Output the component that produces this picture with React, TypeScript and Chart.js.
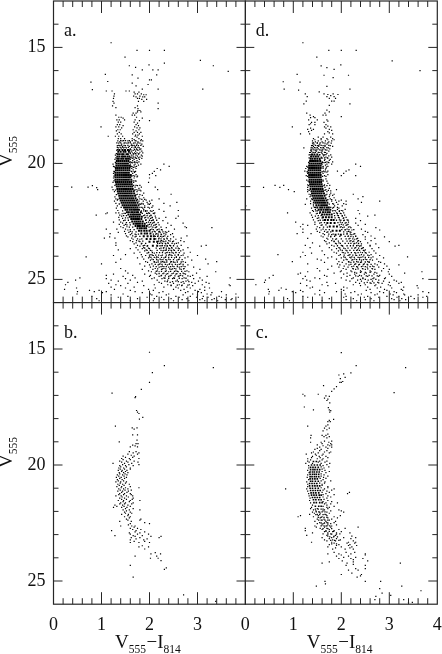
import React, { useEffect, useRef } from "react";
import { Chart, registerables } from "chart.js";
Chart.register(...registerables);

type Rows = [number, number[]][];
const xTickLabels = [0, 1, 2, 3, 4];
const yTickLabels = [15, 20, 25];

const aCore: Rows = [
[19.42,[1.37,1.44,1.49,1.55]],[19.5,[1.35,1.4,1.46,1.5,1.57]],[19.6,[1.34,1.38,1.43,1.46,1.52,1.55]],
[19.7,[1.33,1.37,1.42,1.45,1.49,1.54,1.58]],[19.8,[1.33,1.36,1.41,1.45,1.5,1.53,1.57]],[19.9,[1.32,1.36,1.4,1.44,1.48,1.52,1.56]],
[20,[1.31,1.35,1.39,1.43,1.47,1.51,1.55]],[20.1,[1.31,1.35,1.39,1.43,1.47,1.51,1.55,1.59]],[20.2,[1.3,1.34,1.38,1.42,1.46,1.5,1.54,1.58]],
[20.3,[1.3,1.34,1.38,1.42,1.46,1.5,1.54,1.58]],[20.4,[1.29,1.33,1.37,1.41,1.45,1.49,1.53,1.57]],[20.5,[1.29,1.33,1.37,1.41,1.45,1.49,1.53,1.57,1.61]],
[20.6,[1.29,1.33,1.37,1.41,1.45,1.49,1.53,1.57,1.6]],[20.7,[1.29,1.33,1.37,1.41,1.45,1.49,1.53,1.57,1.62]],[20.8,[1.3,1.34,1.38,1.42,1.46,1.5,1.54,1.58,1.62]],
[20.9,[1.31,1.35,1.39,1.43,1.47,1.51,1.55,1.59,1.63]],[21,[1.32,1.36,1.4,1.44,1.48,1.52,1.56,1.6,1.64]],[21.1,[1.33,1.37,1.41,1.45,1.49,1.53,1.57,1.61,1.65]],
[21.2,[1.34,1.38,1.42,1.46,1.5,1.54,1.58,1.62,1.67]],[21.3,[1.35,1.39,1.43,1.47,1.51,1.55,1.59,1.63,1.68]],[21.4,[1.37,1.41,1.45,1.49,1.53,1.57,1.61,1.65,1.7]],
[21.5,[1.38,1.42,1.46,1.5,1.54,1.58,1.62,1.66,1.71]],[21.6,[1.4,1.44,1.48,1.52,1.56,1.6,1.64,1.68,1.73]],[21.7,[1.42,1.46,1.5,1.54,1.58,1.62,1.66,1.7,1.75]],
[21.8,[1.44,1.48,1.52,1.56,1.6,1.64,1.68,1.72,1.77]],[21.9,[1.47,1.51,1.55,1.59,1.63,1.67,1.71,1.75]],[22,[1.5,1.54,1.59,1.63,1.67,1.7,1.74,1.78]],
[22.1,[1.53,1.57,1.62,1.65,1.69,1.73,1.76,1.82]],[22.2,[1.56,1.61,1.65,1.68,1.72,1.76,1.8]],[22.3,[1.59,1.63,1.67,1.71,1.75,1.79,1.84]],
[22.4,[1.62,1.66,1.7,1.74,1.78,1.83]],[22.5,[1.64,1.69,1.73,1.77,1.81,1.86]],[22.6,[1.67,1.72,1.76,1.8,1.85,1.9]],
[22.7,[1.71,1.76,1.8,1.85,1.89,1.94]],[22.8,[1.75,1.8,1.84,1.89,1.93]],[22.9,[1.78,1.83,1.89,1.94,2]],
[23.02,[1.83,1.9,1.95,2.02]],[23.14,[1.88,1.96,2.03,2.09]],[23.26,[1.94,2.02,2.1]],[23.38,[2,2.09,2.16]],[23.55,[2.07,2.16]],
];
const aMid: Rows = [
[19.02,[1.4,1.46,1.5,1.58,1.64,1.7,1.82]],[19.12,[1.32,1.4,1.49,1.56,1.6,1.7,1.76]],[19.22,[1.36,1.41,1.47,1.55,1.62,1.68,1.73,1.82]],[19.31,[1.33,1.39,1.43,1.49,1.56,1.63,1.71,1.76]],
[19.41,[1.33,1.57,1.61,1.69,1.74,1.8]],[19.58,[1.31,1.6,1.66,1.71,1.78]],[19.76,[1.3,1.6,1.66,1.71,1.77]],[19.96,[1.29,1.59,1.63,1.68,1.72]],[20.15,[1.27,1.6,1.64,1.7]],[20.35,[1.27,1.63,1.68]],
[20.55,[1.26,1.63,1.69,1.75]],[20.75,[1.26,1.66,1.7]],[20.95,[1.28,1.67,1.72,1.8]],[21.15,[1.29,1.69,1.76,1.8]],[21.35,[1.31,1.72,1.8]],[21.55,[1.34,1.75,1.84,1.9]],[21.75,[1.37,1.8,1.87,1.97]],
[21.9,[1.41,1.8,1.84,1.9,1.97,2.05]],[22.05,[1.44,1.83,1.88,1.95,2.02]],[22.15,[1.47,1.5,1.85,1.94,2,2.08]],[22.25,[1.46,1.52,1.88,1.95,2.03]],[22.35,[1.5,1.55,1.9,1.97,2.05,2.13]],[22.45,[1.49,1.56,1.92,2,2.07,2.15]],
[22.55,[1.52,1.59,1.94,2.02,2.09,2.18]],[22.65,[1.53,1.6,1.97,2.04,2.12,2.2]],[22.75,[1.58,1.65,1.99,2.07,2.14,2.24]],[22.85,[1.6,1.68,2.02,2.08,2.17,2.25]],[22.95,[1.64,1.72,2.06,2.12,2.19,2.28,2.33]],
[23.05,[1.7,1.77,2.08,2.13,2.18,2.24,2.34]],[23.15,[1.72,1.8,2.12,2.17,2.23,2.29,2.38]],[23.25,[1.75,1.84,2.13,2.19,2.24,2.3,2.37,2.44]],[23.35,[1.78,1.86,2.19,2.23,2.28,2.34,2.43,2.5]],
[23.45,[1.84,1.92,2.17,2.21,2.27,2.33,2.39,2.47,2.56]],[23.55,[1.87,1.96,2.22,2.26,2.32,2.37,2.44,2.5]],[23.65,[1.9,1.98,2.14,2.24,2.29,2.35,2.4,2.47,2.55,2.6]],[23.75,[1.95,2.02,2.16,2.24,2.3,2.34,2.4,2.45,2.52,2.6]],
[23.85,[1.98,2.06,2.15,2.21,2.27,2.36,2.42,2.47,2.55,2.62]],[23.95,[2,2.06,2.13,2.19,2.27,2.35,2.4,2.45,2.53,2.6,2.7]],[24.05,[2.03,2.1,2.18,2.25,2.33,2.4,2.46,2.56,2.63]],[24.15,[2.08,2.15,2.24,2.28,2.34,2.43,2.5,2.6,2.68]],
[24.25,[2.1,2.18,2.24,2.3,2.36,2.44,2.5,2.58,2.66]],[24.35,[2.12,2.2,2.26,2.33,2.41,2.47,2.54,2.62,2.7]],[24.45,[2.14,2.24,2.3,2.35,2.44,2.51,2.58,2.66,2.74]],[24.55,[2.17,2.27,2.34,2.42,2.48,2.55,2.63,2.71]],
[24.65,[2.14,2.25,2.33,2.44,2.52,2.58,2.67,2.74]],[24.75,[2.2,2.28,2.38,2.47,2.57,2.64,2.72]],[24.85,[2.24,2.33,2.43,2.53,2.62,2.69,2.8]],[24.95,[2.32,2.4,2.52,2.62,2.76]],[25.1,[2.37,2.48,2.6,2.7,2.82]],[25.25,[2.45,2.58,2.68,2.8]],
];
const aField: Rows = [
[14.8,[1.2]],[15.13,[1.74,2,2.31]],[15.42,[1.49]],[15.56,[3.06]],[15.68,[2.31]],[15.79,[3.33,1.58]],[15.75,[1.99]],[15.86,[1.71]],[16.03,[3.64]],[15.97,[1.85,2.07,2.18]],
[16.16,[1.08]],[16.18,[1.64,2.15]],[16.32,[1.76]],[16.4,[2,2.04]],[16.47,[1.13]],[16.5,[0.78]],[16.54,[1.64]],[16.6,[1.97]],[16.66,[1.72]],[16.8,[3.11,1.85,2.18]],[16.82,[0.81]],
[16.88,[1.1,1.22,1.51,1.58]],[16.93,[1.68,1.78]],[17,[1.27,1.7,1.75,1.83]],[17.04,[1.88,1.93]],[17.1,[1.26,1.67,1.8]],[17.13,[1.72,1.86,1.9]],[17.2,[1.25,1.75,1.79]],[17.24,[1.84,1.94]],[17.33,[1.24,1.77,1.88]],
[17.4,[1.26,2.18]],[17.52,[1.23,1.75]],[17.6,[1.3,1.7]],[17.64,[1.76,2.18]],[17.72,[1.76,1.8]],[17.83,[1.66,1.72]],[17.78,[1.75,1.82]],[17.92,[1.3,1.64,1.69]],
[18.01,[1.36,1.41,1.73]],[18.05,[1.45,1.85]],[18.12,[1.32,1.37,1.48,1.7]],[18.16,[1.79,2]],[18.22,[1.35,1.4,1.68]],[18.26,[1.75]],[18.33,[1.33,1.38,1.72]],[18.37,[1.45,1.77]],[18.43,[1.3,1.36,1.69,0.99]],[18.47,[1.42,1.74,1.8]],
[18.55,[1.34,1.39,1.66,1.78]],[18.6,[1.31,1.72]],[18.66,[1.37,1.68,1.75,1.82]],[18.73,[1.33,1.41,1.65,1.79]],[18.78,[1.71,1.76]],[18.83,[1.29,1.36,1.44,1.7,1.85,1.14]],[18.87,[1.74]],
[18.93,[1.35,1.4,1.48,1.64,1.78]],[18.97,[1.68,1.83]],[19.03,[1.34,1.43,1.55,1.72,1.86]],[19.07,[1.38,1.6,1.76]],[19.13,[1.36,1.47,1.53,1.67,1.8]],[19.17,[1.42,1.63,1.74,1.84]],
[19.23,[1.33,1.38,1.5,1.65,1.77]],[19.27,[1.44,1.58,1.7,1.87]],[19.33,[1.35,1.46,1.52,1.68,1.79]],[19.37,[1.41,1.6,1.73,1.82]],[19.44,[1.32,1.58,1.66,1.76]],[19.47,[1.62,1.71,1.84]],
[19.55,[1.6,1.69,1.74,1.86]],[19.52,[1.64,1.8]],[19.64,[1.29,1.63,1.72,1.83]],[19.6,[1.67,1.77]],[19.73,[1.62,1.7,1.8]],[19.69,[1.66,1.75,1.85]],[19.83,[1.28,1.6,1.68,1.79]],[19.78,[1.64,1.73,1.84]],
[19.93,[1.6,1.69,1.78]],[19.88,[1.65,1.74]],[20.03,[1.24,1.6,1.7,1.82,2.3]],[19.98,[1.64,1.75]],[20.13,[1.25,1.62,1.73,2.41]],[20.07,[1.68,1.77]],[20.22,[1.63,1.72,2.16]],[20.17,[1.67]],
[20.34,[1.26,1.62,1.71,2.1]],[20.28,[1.66,2.23]],[20.43,[1.25,1.65,2.06]],[20.39,[1.69]],[20.53,[1.66,2.13]],[20.48,[1.72,2]],[20.63,[1.25,1.68,2]],[20.58,[1.74]],[20.82,[1.24,1.67,1.98]],[20.76,[1.72]],
[21.02,[1.22,1.7,1.83,2.12,0.38,0.72]],[20.96,[1.75,0.81]],[21.04,[0.9]],[21.13,[1.24,1.72,2.17,0.92]],[21.08,[1.78]],[21.22,[1.27,1.74]],[21.18,[1.82]],[21.33,[1.75,2.45]],[21.28,[1.88]],[21.44,[1.28,1.78]],[21.38,[1.85]],
[21.53,[1.3,1.8,2.2]],[21.48,[1.88]],[21.63,[1.27,1.78,1.87,2.0]],[21.58,[1.33,1.93,2.05]],[21.72,[1.3,1.84,2.02,2.3]],[21.68,[1.95,2.57]],[21.83,[1.33,1.9,2.07,2.43]],[21.77,[1.82,2]],
[21.93,[1.31,1.86,2]],[22.03,[1.34,1.92,2.08,2.6]],[21.98,[2.2,1.88]],[22.13,[1.3,1.36,1.98,2.11,1.12]],[22.07,[1.92,2.05,2.3]],[22.23,[1.38,1.9,2.03,0.89]],[22.17,[1.43,1.96,2.1,1.09]],
[22.33,[1.36,1.92,2.06,2.34]],[22.27,[1.42,2,2.12,2.6]],[22.43,[1.37,1.93,2.08]],[22.37,[1.44,2.02,2.2,2.55]],[22.53,[1.25,1.4,1.98,2.1]],[22.47,[1.46,2.04,2.28]],[22.63,[1.37,1.5,2,2.14]],[22.57,[1.44,2.06,2.38,2.7]],
[22.73,[1.4,1.53,2.03,2.15,2.74]],[22.67,[1.47,2.09,2.45]],[22.83,[1.1,1.32,1.5,2.05,2.2,2.52]],[22.77,[1.45,2.12,2.35,2.77,3.3]],[22.93,[1.48,1.6,2.1,2.21,2.4]],[22.87,[1.55,2.15,2.27]],
[23.03,[1.18,1.5,1.63,2.15,2.3,2.48]],[22.97,[1.35,1.57,2.22,2.36]],[23.12,[1.52,1.65,2.18,2.32,2.78]],[23.07,[1.6,1.72,2.25,2.44]],[23.22,[1.06,1.28,1.63,2.2,2.36,2.66]],[23.17,[1.17,1.55,1.7,2.26,2.5]],
[23.33,[1.6,1.73,2.25,2.4,2.65]],[23.27,[1.66,1.8,2.31,2.55]],[23.43,[1.3,1.72,2.24,2.38,2.6]],[23.37,[1.65,1.8,2.3,2.48,2.72]],[23.53,[1.3,1.75,1.9,2.27,2.42,2.66,3.18]],[23.47,[1.68,1.83,2.34,2.52]],
[23.63,[1.72,1.88,2.3,2.46,2.8]],[23.57,[1.8,1.95,2.37,2.58,3.08]],[23.73,[1.35,1.76,1.93,2.35,2.5,2.7]],[23.67,[1.6,1.85,2,2.42,2.62,2.21]],[23.83,[1.8,1.98,2.38,2.55,2.85]],[23.77,[1.9,2.05,2.28,2.46,2.65]],
[23.93,[1.5,1.83,2.03,2.42,2.6]],[23.87,[1.68,1.95,2.1,2.33,2.5,2.72]],[24.03,[0.68,1.85,2,2.15,2.34,2.56,2.8]],[23.97,[1.25,1.92,2.08,2.24,2.47,2.66,3]],[24.13,[1.4,1.88,2.05,2.22,2.4,2.62,3.17]],[24.07,[1.75,1.98,2.14,2.3,2.52,2.74]],
[24.23,[1.92,2.1,2.27,2.46,2.7,3.4]],[24.17,[2.02,2.18,2.36,2.57,2.88]],[24.33,[1,1.8,2.05,2.22,2.42,2.65,3.22]],[24.27,[1.3,1.96,2.14,2.32,2.53,2.75]],[24.43,[1.9,2.08,2.27,2.48,2.7]],[24.37,[2,2.18,2.37,2.58,2.8]],
[24.53,[1.4,2.12,2.3,2.52,2.72]],[24.47,[2.02,2.2,2.4,2.62,2.92]],[24.63,[1.5,1.98,2.16,2.35,2.55,2.78]],[24.57,[1.85,2.07,2.25,2.45,2.66,3.05]],[24.73,[1.55,2.12,2.3,2.5,2.7,2.98]],[24.67,[2.04,2.2,2.4,2.6,2.82,3.38]],
[24.83,[1.1,1.65,2.02,2.25,2.45,2.65,2.9]],[24.77,[1.25,1.9,2.15,2.35,2.55,2.75]],[24.93,[0.55,1.7,2.1,2.3,2.5,2.72,3.05,3.68]],[24.87,[1.45,2,2.2,2.4,2.6,2.85,3.2]],[25.03,[0.46,1.2,1.6,2.16,2.38,2.58,2.8,3.1]],[24.97,[1.1,1.5,2.05,2.26,2.48,2.68,2.92]],
[25.13,[0.3,1.75,2.2,2.43,2.66,2.88,3.18]],[25.07,[1.35,1.85,2.32,2.55,2.76,3.02]],[25.23,[0.25,1.3,2.1,2.38,2.62,2.83,3.1,3.66]],[25.17,[1.15,1.55,2.25,2.5,2.72,2.95,3.24]],[25.33,[1.2,1.68,2.3,2.55,2.78,3.15]],[25.27,[1.4,1.88,2.45,2.67,2.9,3.68]],
[25.43,[0.23,1.27,1.98,2.5,2.72,3.05]],[25.37,[0.48,1.5,2.12,2.6,2.85,3.25]],[25.53,[0.5,0.85,1.1,1.7,2.28,2.8,3.02,3.5]],[25.47,[0.75,0.95,1.6,2.08,2.65,2.95,3.15]],[25.63,[0.49,1.45,2.02,2.4,2.9,3.2,3.8]],[25.57,[1.02,1.85,2.2,2.75,3.08,3.3]],
[25.73,[0.8,1.55,2.15,2.55,2.85,3.12,3.45]],[25.67,[1.2,2.05,2.35,2.7,3,3.28,3.6]],[25.83,[0.9,1.75,2.1,2.45,2.78,3.1,3.35,3.72]],[25.77,[1.35,1.95,2.25,2.62,2.98,3.22,3.5,3.85]],[25.92,[0.95,1.6,2.08,2.5,2.82,3.15,3.42]],[25.87,[2.3,2.68,3.05,3.3,3.58,3.7]],
];

const dCore: Rows = [
[19.62,[1.39,1.44,1.5]],[19.7,[1.37,1.42,1.47,1.52]],[19.8,[1.36,1.4,1.45,1.5,1.55]],[19.9,[1.35,1.39,1.43,1.47,1.51,1.56]],
[20,[1.34,1.38,1.42,1.46,1.5,1.54,1.58]],[20.1,[1.33,1.37,1.41,1.45,1.49,1.53,1.57]],[20.2,[1.33,1.37,1.41,1.45,1.49,1.53,1.57]],[20.3,[1.32,1.36,1.4,1.44,1.48,1.52,1.56]],
[20.4,[1.32,1.36,1.4,1.44,1.48,1.52,1.56]],[20.5,[1.33,1.37,1.41,1.45,1.49,1.53,1.57]],[20.6,[1.33,1.37,1.41,1.45,1.49,1.53,1.57]],[20.7,[1.34,1.38,1.42,1.46,1.5,1.54,1.58]],
[20.8,[1.34,1.38,1.42,1.46,1.5,1.54,1.58]],[20.9,[1.35,1.39,1.43,1.47,1.51,1.55,1.59]],[21,[1.36,1.4,1.44,1.48,1.52,1.56,1.6]],[21.1,[1.36,1.41,1.45,1.49,1.53,1.57,1.61]],
[21.2,[1.38,1.42,1.46,1.5,1.54,1.58,1.62]],[21.3,[1.39,1.43,1.47,1.51,1.55,1.59,1.64]],[21.4,[1.4,1.44,1.48,1.52,1.56,1.6,1.65]],[21.5,[1.42,1.46,1.5,1.54,1.58,1.62,1.67]],
[21.6,[1.44,1.48,1.52,1.56,1.6,1.64,1.69]],[21.7,[1.46,1.5,1.54,1.58,1.62,1.66,1.71]],[21.8,[1.48,1.53,1.58,1.62,1.66,1.7]],[21.9,[1.5,1.56,1.6,1.65,1.7,1.74]],
[22,[1.53,1.58,1.63,1.68,1.72,1.77]],[22.1,[1.56,1.62,1.67,1.72,1.76]],[22.2,[1.6,1.65,1.7,1.75,1.8]],[22.32,[1.62,1.68,1.74,1.8]],[22.44,[1.66,1.72,1.79,1.84]],
[22.57,[1.71,1.78,1.86]],[22.72,[1.76,1.84,1.91]],[22.9,[1.82,1.9,1.97]],[23.08,[1.88,1.99]],
];
const dMid: Rows = [
[19.12,[1.42,1.5,1.56,1.62,1.72]],[19.22,[1.4,1.46,1.53,1.58,1.66,1.74]],[19.32,[1.39,1.44,1.5,1.57,1.63,1.7]],[19.42,[1.38,1.43,1.49,1.55,1.61,1.67]],[19.52,[1.36,1.41,1.46,1.52,1.58,1.65]],
[19.62,[1.35,1.55,1.62,1.68]],[19.76,[1.33,1.59,1.65,1.71]],[19.96,[1.32,1.61,1.67,1.73]],[20.16,[1.3,1.62,1.69]],[20.36,[1.29,1.6,1.66]],[20.56,[1.3,1.61,1.68]],[20.76,[1.31,1.62,1.7]],[20.96,[1.32,1.64,1.7]],
[21.16,[1.33,1.66,1.73]],[21.36,[1.36,1.68,1.76]],[21.56,[1.4,1.72,1.8]],[21.76,[1.42,1.75,1.84]],[21.9,[1.44,1.46,1.78,1.84,1.92]],[22.05,[1.47,1.5,1.82,1.88,1.96,2.03]],[22.15,[1.5,1.55,1.85,1.92,1.98]],
[22.25,[1.52,1.58,1.86,1.94,2.02]],[22.35,[1.53,1.6,1.87,1.96,2.05]],[22.45,[1.56,1.62,1.9,1.99,2.06,2.14]],[22.55,[1.58,1.65,1.93,2.02,2.1]],[22.65,[1.6,1.68,1.96,2.04,2.12]],[22.75,[1.63,1.71,1.98,2.06,2.15]],
[22.85,[1.68,1.75,2.01,2.08,2.16,2.26]],[22.95,[1.72,1.78,2.05,2.12,2.18]],[23.05,[1.74,1.83,1.94,2.05,2.12,2.19,2.26]],[23.15,[1.78,1.86,1.97,2.08,2.14,2.2,2.3]],[23.25,[1.82,1.9,2,2.1,2.16,2.24,2.32]],
[23.35,[1.85,1.94,2.03,2.12,2.18,2.26,2.34]],[23.45,[1.88,1.98,2.08,2.15,2.2,2.28,2.36]],[23.55,[1.92,2.02,2.12,2.19,2.25,2.32,2.41]],[23.65,[1.97,2.05,2.14,2.22,2.28,2.36,2.44]],[23.75,[2.02,2.1,2.18,2.26,2.32,2.38,2.46]],
[23.85,[2.04,2.14,2.21,2.28,2.35,2.44,2.5]],[23.95,[2.06,2.16,2.24,2.3,2.38,2.47,2.55]],[24.05,[2.08,2.18,2.27,2.35,2.41,2.5,2.57]],[24.15,[2.12,2.24,2.32,2.38,2.46,2.53,2.6]],[24.25,[2.16,2.26,2.35,2.42,2.5,2.58]],
[24.35,[2.2,2.28,2.38,2.46,2.54,2.62]],[24.45,[2.22,2.32,2.42,2.5,2.6,2.68]],[24.55,[2.25,2.35,2.45,2.55,2.65]],[24.7,[2.28,2.4,2.5,2.6,2.7]],[24.85,[2.3,2.42,2.52,2.64,2.75]],[25.0,[2.4,2.5,2.62,2.72]],[25.15,[2.48,2.6,2.68,2.78]],
];
const dField: Rows = [
[14.8,[1.2]],[15.13,[1.74,2,2.31]],[15.42,[1.49]],[15.58,[3.06]],[15.8,[1.58]],[15.75,[1.99]],[15.87,[1.7]],[16,[3.64]],[15.95,[1.85]],[16.16,[1.08]],[16.2,[1.64,2.15]],[16.3,[1.83]],
[16.48,[0.79]],[16.5,[1.14]],[16.68,[1.7]],[16.8,[0.81,2.18]],[16.84,[1.11]],[16.92,[1.54]],[17,[1.25,1.64,1.83]],[17.03,[1.72,1.93]],[17.12,[1.29,1.7,1.85]],[17.08,[1.78]],[17.2,[1.75,1.88]],[17.32,[1.27,1.8,1.85]],
[17.43,[1.22,2.18]],[17.5,[1.75]],[17.7,[1.7]],[17.83,[1.28,1.66]],[17.78,[1.75]],[17.92,[1.35,1.68,1.62]],[18.03,[1.36,1.45]],[17.98,[1.42,2]],[18.12,[1.32,1.5,1.7]],[18.23,[1.38,1.45,1.64]],[18.18,[1.72]],
[18.33,[1.33,1.45,1.68]],[18.29,[1.36]],[18.43,[0.98,1.65,1.78]],[18.39,[1.72]],[18.53,[1.3,1.42,1.75]],[18.48,[1.36,1.68]],[18.63,[1.32,1.72]],[18.58,[1.38,1.8]],[18.73,[1.15,1.34,1.65,1.82]],[18.68,[1.75]],
[18.93,[1.42,1.58,1.7,1.82]],[18.87,[1.52,1.62,1.78]],[19.03,[1.4,1.52,1.67,1.8]],[18.98,[1.45,1.58,1.72,1.85]],[19.13,[1.4,1.5,1.66,1.79]],[19.07,[1.46,1.6,1.74]],[19.23,[1.38,1.5,1.62,1.77]],[19.17,[1.43,1.55,1.7]],
[19.33,[1.22,1.37,1.47,1.6,1.73]],[19.27,[1.42,1.53,1.66,1.82]],[19.43,[1.36,1.46,1.58,1.7]],[19.37,[1.41,1.52,1.64,1.76]],[19.53,[1.34,1.43,1.54,1.67]],[19.47,[1.38,1.48,1.6,1.74]],[19.63,[1.33,1.55,1.65,1.78]],[19.57,[1.6,1.7]],
[19.73,[1.58,1.68,1.8]],[19.68,[1.63,1.74]],[19.83,[1.55,1.66,1.77]],[19.77,[1.6,1.72]],[19.93,[1.6,1.7,1.82]],[19.87,[1.65,1.75]],[20.03,[1.6,1.7,1.8,2.3]],[19.97,[1.64,1.74]],[20.13,[1.28,1.62,1.72,2.4]],[20.07,[1.67]],[20.22,[1.26,1.62,1.68]],
[20.33,[1.24,1.63,1.72,1.92,2.1]],[20.28,[1.67,2.16]],[20.43,[1.3,1.62,2.05]],[20.38,[1.7]],[20.53,[1.27,1.65,2,2.3]],[20.48,[1.72]],[20.72,[1.28,1.62]],[20.67,[1.68]],[20.93,[1.3,1.65]],[20.86,[1.72]],
[21.03,[0.38,0.72,1.3,1.66]],[20.95,[0.62,0.8,1.76]],[21.13,[0.9,1.3,1.68,1.9]],[21.08,[1.75]],[21.22,[1.02,1.3,1.7]],[21.18,[1.78]],[21.33,[1.33,1.7,1.85,2.25]],[21.28,[1.78]],[21.43,[1.35,1.75,2.45]],[21.38,[1.82]],
[21.53,[1.28,1.38,1.77,2.35]],[21.48,[1.85]],[21.63,[1.36,1.8,1.95,2.1,2.8]],[21.58,[1.88,2.0]],[21.73,[1.36,1.82,2.05]],[21.68,[1.42,1.9,2.42]],[21.83,[0.01,1.42,1.86,2.02]],[21.77,[1.25,1.93,2.1]],
[21.93,[1.38,1.82,1.95]],[22.03,[1.4,1.85,2,2.35]],[21.98,[1.46,1.92,2.08]],[22.13,[0.88,1.35,1.9,2.05]],[22.07,[1.42,1.96]],[22.23,[1.38,1.92,2.07,2.7]],[22.17,[1.48,2,2.38]],[22.33,[1.4,1.94,2.1]],[22.27,[1.46,2.02,2.55]],
[22.43,[1.42,1.96,2.12]],[22.37,[1.5,2.04,2.3]],[22.53,[1.05,1.45,1.98,2.15]],[22.47,[1.52,2.05,2.4]],[22.63,[1.2,1.45,2,2.14,2.5]],[22.57,[1.55,2.08,2.3]],[22.73,[1.15,1.5,2,2.18]],[22.67,[1.3,1.58,2.1,2.35]],
[22.83,[1.2,1.48,1.62,2.12,2.42]],[22.77,[1.55,2.03,2.2,2.72]],[22.93,[1.5,1.65,2.15,2.5]],[22.87,[1.58,2.08,2.22,2.8]],[23.03,[1.08,1.37,1.62,2.12,2.28]],[22.97,[1.2,1.55,1.7,2.2,2.55]],
[23.13,[1.58,1.73,2.15,2.3,2.62]],[23.07,[1.65,1.8,2.22,2.45]],[23.23,[1.3,1.7,2.18,2.34,2.7]],[23.17,[1.62,1.78,2.25,2.5,2.9]],[23.33,[1.65,1.8,2.2,2.36,2.62]],[23.27,[1.72,1.88,2.28,2.5]],
[23.43,[1.4,1.75,1.95,2.32,2.55]],[23.37,[1.68,1.85,2.24,2.4,3]],[23.53,[1.25,1.8,2,2.35,2.6,3.2]],[23.47,[1.7,1.9,2.26,2.42,2.72]],[23.63,[1.35,1.75,1.95,2.3,2.46,2.78]],[23.57,[1.55,1.85,2.03,2.38,2.6,3.12]],
[23.73,[1.8,1.98,2.34,2.5]],[23.67,[1.9,2.08,2.42,2.64]],[23.83,[1.2,1.85,2.02,2.4,2.58]],[23.77,[1.6,1.94,2.12,2.48,2.68]],[23.93,[0.68,1.65,1.98,2.18,2.42,2.62]],[23.87,[1.38,1.9,2.08,2.3,2.52,2.72]],
[24.03,[1.15,1.8,2.05,2.22,2.45,2.66,3.38]],[23.97,[1.25,1.95,2.14,2.32,2.58,2.8]],[24.13,[1.5,1.9,2.1,2.28,2.5,2.74]],[24.07,[1.72,2,2.2,2.38,2.62,2.88]],[24.23,[0.98,1.95,2.15,2.32,2.55,2.78]],[24.17,[1.58,2.05,2.22,2.42,2.65]],
[24.33,[1.3,1.92,2.1,2.3,2.48,2.7,2.9]],[24.27,[1.65,2.02,2.2,2.4,2.58,2.82]],[24.43,[1.8,2.06,2.26,2.45,2.65,2.95]],[24.37,[1.97,2.16,2.36,2.55,2.75,3.2]],[24.53,[1.5,2.04,2.24,2.44,2.64,2.88]],[24.47,[1.95,2.14,2.34,2.54,2.78]],
[24.63,[1.55,2,2.2,2.4,2.6,2.84]],[24.57,[1.72,2.1,2.3,2.5,2.7,3]],[24.73,[1.15,1.85,2.12,2.32,2.52,2.74,3.32]],[24.67,[1.3,1.98,2.22,2.42,2.62,2.98,3.68]],[24.83,[0.58,1.65,2.18,2.38,2.58,2.8]],[24.77,[1.1,2.05,2.28,2.48,2.68,3]],
[24.93,[0.5,1.45,2,2.25,2.45,2.68,2.92]],[24.87,[1.25,1.7,2.12,2.35,2.55,2.78,3.05]],[25.03,[0.42,1.28,2.1,2.34,2.56,2.78,3.1]],[24.97,[1.2,1.55,2.22,2.45,2.66,2.9,3.7]],[25.13,[0.4,1.7,2.3,2.54,2.76,3,3.25]],[25.07,[1.35,2.18,2.42,2.65,2.88,3.15]],
[25.23,[0.22,1.6,2.25,2.5,2.72,2.98]],[25.17,[1.15,1.88,2.38,2.62,2.85,3.2]],[25.33,[1.4,2.05,2.55,2.82,3.3]],[25.27,[1.28,1.72,2.4,2.7,3.02,3.58]],[25.43,[0.48,0.85,2,2.6,2.9,3.25]],[25.37,[0.75,1.35,2.12,2.75,3.05,3.6]],
[25.53,[0.5,0.98,1.2,1.9,2.28,2.8,3.1,3.7]],[25.47,[0.7,1.15,1.55,2.05,2.52,2.95,3.28]],[25.63,[0.49,1.45,2.08,2.42,2.75,3.02,3.3]],[25.57,[1.05,1.65,2.2,2.62,2.88,3.15,3.82]],[25.73,[1.2,2.1,2.55,2.95,3.2,3.45,3.78]],[25.67,[1.55,2.35,2.7,3.08,3.32,3.6]],
[25.83,[0.88,1.75,2.25,2.62,3.05,3.26,3.52]],[25.77,[1.3,2.05,2.48,2.78,3.16,3.4,3.7]],[25.92,[0.92,1.6,2.32,2.68,3.22]],[25.87,[2.1,2.5,3.1,3.34]],
];

const bField: Rows = [
[15.14,[2]],[15.72,[2.31]],[15.8,[3.33]],[16.02,[2.06]],[16.44,[2]],[16.74,[1.83]],[16.9,[1.22]],[17.05,[1.71]],[17.1,[1.7]],[17.65,[1.73]],[17.72,[1.75]],[17.78,[1.78]],[17.95,[1.86]],[18.02,[1.79]],[18.32,[1.29]],
[18.4,[1.64,1.74]],[18.45,[1.68]],[18.7,[1.65,1.75]],[18.93,[1.74]],[19,[1.37]],[19.08,[1.72,1.76]],[19.14,[1.65]],[19.22,[1.6,1.75]],[19.18,[1.7]],[19.42,[1.58,1.72]],[19.53,[1.55,1.75]],[19.48,[1.66,1.78]],
[19.62,[1.45,1.68]],[19.58,[1.62]],[19.72,[1.42,1.58,1.78]],[19.67,[1.5,1.65]],[19.83,[1.38,1.52,1.68]],[19.77,[1.45,1.6]],[19.93,[1.24,1.48,1.63]],[19.88,[1.42,1.55,1.76]],[20.03,[1.38,1.5,1.66]],[19.98,[1.44,1.57,1.78]],
[20.13,[1.36,1.46,1.6]],[20.08,[1.4,1.52]],[20.23,[1.35,1.43,1.53]],[20.18,[1.39,1.48,1.6]],[20.33,[1.37,1.46,1.55]],[20.28,[1.42,1.5]],[20.43,[1.33,1.44,1.53]],[20.38,[1.38,1.49]],[20.53,[1.31,1.41,1.52]],[20.48,[1.36,1.47]],
[20.63,[1.33,1.43]],[20.58,[1.38,1.48]],[20.73,[1.3,1.4,1.52]],[20.68,[1.35,1.46]],[20.83,[1.34,1.44,1.58]],[20.78,[1.39,1.5]],[20.93,[1.32,1.42,1.6]],[20.88,[1.37,1.47]],[21.03,[1.36,1.46,1.55]],[20.98,[1.41,1.5,1.78]],
[21.13,[1.34,1.44,1.56]],[21.08,[1.39,1.49,1.62]],[21.23,[1.38,1.48,1.6]],[21.18,[1.42,1.53]],[21.33,[1.3,1.41,1.52,1.65]],[21.28,[1.36,1.46,1.62]],[21.43,[1.38,1.48,1.66]],[21.38,[1.43,1.56]],[21.53,[1.35,1.46,1.6,1.8]],[21.48,[1.42,1.52,1.64]],
[21.63,[1.4,1.5,1.66]],[21.58,[1.45,1.58]],[21.73,[1.28,1.44,1.55]],[21.68,[1.38,1.48,1.63]],[21.83,[1.25,1.42,1.53]],[21.78,[1.32,1.47,1.6]],[21.93,[1.45,1.58,1.8]],[21.88,[1.5,1.66]],[22.03,[1.48,1.6]],[21.98,[1.52]],
[22.13,[1.42,1.56]],[22.08,[1.5,1.63]],[22.23,[1.48,1.6]],[22.18,[1.55]],[22.33,[1.52,1.82]],[22.28,[1.58]],[22.43,[1.38,1.62]],[22.38,[1.55,1.8]],[22.53,[1.6,2]],[22.48,[1.9]],[22.63,[1.4,1.63,1.7]],[22.58,[1.56]],
[22.73,[1.6,1.75]],[22.68,[1.68]],[22.83,[1.21,1.72]],[22.78,[1.65,1.82]],[22.93,[1.58,1.8]],[22.88,[1.7,1.9]],[23.04,[1.28,1.66,1.85]],[22.98,[1.6,1.75,1.98]],[23.13,[1.62,1.8,2.2]],[23.08,[1.7,2.03,2.24]],[23.23,[1.6,1.88]],[23.18,[1.72,1.95]],
[23.34,[1.6,1.78,2]],[23.29,[1.68,1.9]],[23.53,[1.78,1.98]],[23.48,[1.85]],[23.62,[1.9]],[23.83,[2.03,2.23]],[23.78,[2.12]],[23.93,[1.7,2.15]],[24.02,[2.18,2.02]],[24.12,[2.24]],[24.33,[1.6]],[24.43,[2.35]],[24.5,[2.31]],[24.83,[1.66]],[25.6,[2.71]],[25.88,[3.38]],
];

const cCore: Rows = [
[19.85,[1.42,1.48]],[20,[1.38,1.44,1.5,1.56]],[20.1,[1.36,1.41,1.46,1.52]],[20.2,[1.36,1.41,1.45,1.5,1.55]],[20.3,[1.35,1.4,1.44,1.49,1.54]],[20.4,[1.35,1.4,1.44,1.48,1.53]],
[20.5,[1.35,1.39,1.44,1.48,1.53]],[20.6,[1.35,1.4,1.45,1.5]],[20.7,[1.36,1.4,1.46,1.52]],[20.8,[1.34,1.39,1.44,1.49]],[20.9,[1.34,1.4,1.45,1.5,1.55]],[21,[1.35,1.4,1.46,1.52]],
[21.1,[1.36,1.41,1.46,1.51,1.56]],[21.2,[1.37,1.42,1.47,1.53]],[21.3,[1.38,1.43,1.48,1.54,1.58]],[21.4,[1.4,1.45,1.5,1.55]],[21.5,[1.42,1.47,1.53,1.58]],[21.62,[1.43,1.48,1.55,1.6]],[21.78,[1.46,1.53,1.58]],
];
const cMid: Rows = [
[21.9,[1.46,1.52,1.58,1.62]],[22.02,[1.48,1.53,1.6,1.66]],[22.14,[1.47,1.55,1.62,1.68]],[22.26,[1.52,1.58,1.64,1.7]],[22.38,[1.53,1.6,1.66,1.72]],[22.5,[1.58,1.65,1.72]],
[22.62,[1.58,1.64,1.7,1.76]],[22.74,[1.62,1.72,1.8]],[22.86,[1.68,1.75,1.84]],[22.98,[1.72,1.8,1.9]],[23.1,[1.76,1.84,1.92]],[23.25,[1.78,1.86,1.95]],[23.4,[1.8,1.9]],
];
const cField: Rows = [
[15.16,[2.0]],[15.72,[2.31]],[15.8,[3.34]],[16.03,[2.2]],[16.07,[2.05]],[16.12,[1.95]],[16.22,[2.08]],[16.28,[1.98]],[16.4,[2.03]],[16.44,[2,1.97]],[16.58,[1.63]],[16.62,[1.9]],[16.72,[1.85]],[16.83,[1.8]],[16.88,[3.1]],
[16.95,[1.2,1.52]],[17.02,[1.24,1.68]],[17.04,[1.75]],[17.12,[1.65]],[17.16,[1.72]],[17.22,[1.7]],[17.32,[1.76]],[17.5,[1.23]],[17.53,[1.73]],[17.62,[1.75,1.42]],[17.66,[1.78]],[17.72,[1.76]],[18.03,[1.84]],[18.08,[1.75]],
[18.13,[1.72,1.77]],[18.32,[1.3,1.68]],[18.27,[1.72]],[18.41,[1.65,1.75]],[18.53,[1.62]],[18.48,[1.7]],[18.72,[1.37,1.6,1.68]],[18.67,[1.72]],[18.83,[1.36,1.7]],[18.78,[1.64,1.75]],[19.02,[1.36,1.74,1.58]],[18.97,[1.8,1.65]],
[19.13,[1.5,1.72,1.8]],[19.08,[1.6,1.78]],[19.23,[1.55,1.68,1.8]],[19.17,[1.62,1.76]],[19.33,[1.45,1.58]],[19.28,[1.5,1.72]],[19.44,[1.42,1.65,1.78]],[19.38,[1.55,1.7]],[19.53,[1.27,1.46,1.62]],[19.48,[1.38,1.52,1.75]],
[19.63,[1.4,1.54,1.68]],[19.58,[1.48,1.6]],[19.73,[1.3,1.5,1.62]],[19.68,[1.38,1.56,1.72]],[19.83,[1.3,1.55,1.7]],[19.78,[1.36,1.6]],[19.93,[1.26,1.4,1.58,1.76]],[19.88,[1.33,1.52,1.66]],[20.03,[1.32,1.62]],[19.98,[1.7]],
[20.13,[1.32,1.64]],[20.08,[1.58,1.74]],[20.23,[1.3,1.66]],[20.18,[1.6]],[20.33,[1.33,1.68]],[20.28,[1.6,1.75]],[20.43,[1.3,1.64]],[20.38,[1.58]],[20.53,[1.29,1.63]],[20.48,[1.58,1.72]],[20.63,[1.32,1.62]],[20.58,[1.56,1.68]],
[20.73,[1.28,1.66]],[20.68,[1.58,1.78]],[20.83,[1.3,1.6]],[20.78,[1.55,1.65]],[20.93,[1.3,1.72]],[20.88,[1.6]],[21.03,[0.84,1.28,1.65,1.85]],[20.98,[1.58,1.72]],[21.13,[1.3,1.7]],[21.08,[1.62,1.8]],[21.23,[1.32,1.68,2.13]],[21.18,[1.6,1.75,2.17]],
[21.33,[1.33,1.72]],[21.28,[1.62,1.85]],[21.43,[1.35,1.7]],[21.38,[1.62,1.78]],[21.53,[1.34,1.72]],[21.48,[1.64]],[21.63,[1.36,1.68,1.92]],[21.58,[1.62,1.8]],[21.73,[1.4,1.7]],[21.68,[1.65,1.78]],[21.83,[1.38,1.7,1.75]],[21.78,[1.62,1.85]],
[21.93,[1.42,1.65,1.95]],[21.88,[1.36,1.5,1.72]],[22.03,[1.4,1.55,1.7,2.05]],[21.98,[1.47,1.62,1.78,2]],[22.13,[1.34,1.5,1.66]],[22.08,[1.44,1.56,1.75]],[22.23,[1.1,1.42,1.6,1.85]],[22.18,[1.15,1.52,1.7,1.98]],[22.33,[1.5,1.64,1.8]],[22.28,[1.56,1.72,1.92]],
[22.43,[1.45,1.68,1.88]],[22.38,[1.58,1.75]],[22.53,[1.5,1.62,1.78]],[22.48,[1.55,1.7,1.85]],[22.63,[1.45,1.68,1.8]],[22.58,[1.6,1.72,1.9]],[22.73,[1.25,1.56,1.7,2.08]],[22.68,[1.48,1.65,1.78,2.35]],[22.83,[1.25,1.68,1.85]],[22.78,[1.6,1.75,1.95]],
[22.93,[1.4,1.72,1.9,2.18]],[22.87,[1.65,1.82,2]],[23.03,[1.28,1.7,1.88]],[22.97,[1.62,1.78,1.97]],[23.13,[1.6,1.8,2.05,2.3]],[23.07,[1.72,1.85,2.22]],[23.23,[1.65,1.82,1.98]],[23.17,[1.75,1.9,2.2]],[23.33,[1.38,1.8,2.15,2.3]],[23.27,[1.7,1.88,2.25]],
[23.43,[1.75,1.95,2.18]],[23.37,[1.85,2.12,2.28]],[23.53,[1.72,2,2.22]],[23.47,[1.9,2.15,2.32]],[23.63,[1.82,2.08,2.25]],[23.57,[1.88,2.18]],[23.83,[1.72,1.95,2.2,2.5]],[23.77,[1.85,2.1,2.28]],[23.93,[1.9,2.15]],[23.88,[2,2.5]],
[24.03,[1.95,2.2,2.45]],[23.98,[2.05,2.3]],[24.13,[2.02,2.55]],[24.08,[2.25]],[24.23,[1.6,2.12,3.23]],[24.18,[1.75,2.25]],[24.33,[2.1,2.5]],[24.28,[2.25]],[24.53,[2.15,2.35]],[24.47,[2.3,2.5]],[24.72,[2,2.42]],[24.66,[2.22]],[24.83,[2.33]],[24.78,[2.4]],
[25.02,[1.66,2.5,2.82]],[25.12,[1.67]],[25.22,[1.48,3.26]],[25.33,[2.8]],[25.42,[3.66]],[25.52,[2.85]],[25.62,[3.03]],[25.66,[2.72]],[25.8,[2.7,3.3]],[25.92,[3.48,3.4]],
];

type Panel = { key: string; label: string; field: Rows; mid: Rows; core: Rows; right: boolean; bottom: boolean; coreR: number };
const panels: Panel[] = [
  { key: "a", label: "a.", field: aField, mid: aMid, core: aCore, right: false, bottom: false, coreR: 1.4 },
  { key: "d", label: "d.", field: dField, mid: dMid, core: dCore, right: true, bottom: false, coreR: 1.4 },
  { key: "b", label: "b.", field: bField, mid: [], core: [], right: false, bottom: true, coreR: 1 },
  { key: "c", label: "c.", field: cField, mid: cMid, core: cCore, right: true, bottom: true, coreR: 1.15 },
];

const toPoints = (rows: Rows) => rows.flatMap(([v, xs]) => xs.map((x) => ({ x, y: v })));
const INK = "#262626";
const SERIF = "'Liberation Serif', serif";

function drawSub(ctx: CanvasRenderingContext2D, parts: [string, boolean][], x: number, y: number) {
  let cx = x;
  for (const [t, sub] of parts) {
    ctx.font = `${sub ? 11.5 : 19}px ${SERIF}`;
    ctx.fillText(t, cx, sub ? y + 5 : y);
    cx += ctx.measureText(t).width + (sub ? 0.5 : 0);
  }
}

const framePlugin = (p: Panel) => ({
  id: "frame" + p.key,
  afterDatasetsDraw(chart: any) {
    const { ctx, chartArea: a, scales } = chart;
    const sx = scales.x, sy = scales.y;
    ctx.save();
    ctx.strokeStyle = INK;
    ctx.lineWidth = 1.2;
    ctx.strokeRect(a.left, a.top, a.right - a.left, a.bottom - a.top);
    ctx.lineWidth = 1;
    ctx.beginPath();
    for (let i = 1; i < 20; i++) {
      const v = i / 5, px = sx.getPixelForValue(v), len = i % 5 === 0 ? 12 : 6;
      ctx.moveTo(px, a.top); ctx.lineTo(px, a.top + len);
      ctx.moveTo(px, a.bottom); ctx.lineTo(px, a.bottom - len);
    }
    for (let v = 14; v <= 25; v++) {
      const py = sy.getPixelForValue(v), len = v % 5 === 0 ? 9 : 5;
      ctx.moveTo(a.left, py); ctx.lineTo(a.left + len, py);
      ctx.moveTo(a.right, py); ctx.lineTo(a.right - len, py);
    }
    ctx.stroke();
    ctx.fillStyle = "#111";
    ctx.textBaseline = "alphabetic";
    ctx.textAlign = "left";
    ctx.font = `18px ${SERIF}`;
    ctx.fillText(p.label, a.left + 10.5, a.top + 35);
    if (!p.right) {
      ctx.save();
      ctx.translate(12, p.bottom ? 468 - 302 : 167);
      ctx.rotate(-Math.PI / 2);
      drawSub(ctx, [["V", false], ["555", true]], 0, 0);
      ctx.restore();
    }
    if (p.bottom) {
      drawSub(ctx, [["V", false], ["555", true], ["−", false], ["I", false], ["814", true]], a.left + 61.5, a.bottom + 43.8);
    }
    ctx.restore();
  },
});

const clearPad = (s: any) => { s.paddingLeft = 0; s.paddingRight = 0; s.paddingTop = 0; s.paddingBottom = 0; };

function PanelChart({ p }: { p: Panel }) {
  const ref = useRef<HTMLCanvasElement>(null);
  const left = p.right ? 225 : 0;
  const top = p.bottom ? 302 : 0;
  const width = p.right ? 217 : 246;
  const height = p.bottom ? 352 : 303;
  useEffect(() => {
    const mk = (name: string, rows: Rows, r: number, color: string) => ({
      label: p.key + " " + name, data: toPoints(rows), backgroundColor: color, borderWidth: 0, pointStyle: "rect", pointRadius: r,
    });
    const chart = new Chart(ref.current!, {
      type: "scatter",
      data: {
        datasets: [
          mk("field", p.field, 0.85, "#000"),
          mk("mid", p.mid, 0.9, "#000"),
          mk("core", p.core, p.coreR, "#000"),
        ],
      },
      options: {
        animation: false,
        responsive: false,
        events: [],
        layout: { autoPadding: false, padding: { left: p.right ? 20.3 : 0, right: p.right ? 4.7 : 0.5, top: p.bottom ? 0.6 : 1, bottom: p.bottom ? 0 : 0.4 } },
        plugins: { legend: { display: false }, tooltip: { enabled: false } },
        scales: {
          x: {
            type: "linear", min: 0, max: 4, display: p.bottom,
            grid: { display: false, drawTicks: false }, border: { display: false },
            afterFit: (s: any) => { clearPad(s); if (p.bottom) s.height = 49.8; },
            ticks: {
              stepSize: 1, padding: 10, maxRotation: 0, autoSkip: false, color: "#111",
              font: { family: "'Liberation Serif', serif", size: 18 },
              callback: (v: any) => (xTickLabels.includes(v) && (p.right || v !== 4) ? String(v) : ""),
            },
          },
          y: {
            type: "linear", reverse: true, min: 13, max: 26, display: !p.right,
            grid: { display: false, drawTicks: false }, border: { display: false },
            afterFit: (s: any) => { clearPad(s); if (!p.right) s.width = 53.5; },
            ticks: {
              stepSize: 1, padding: 8, autoSkip: false, color: "#111",
              font: { family: "'Liberation Serif', serif", size: 18 },
              callback: (v: any) => (yTickLabels.includes(v) ? String(v) : ""),
            },
          },
        },
      },
      plugins: [framePlugin(p)],
    } as any);
    return () => chart.destroy();
  }, []);
  return <canvas ref={ref} width={width} height={height} style={{ position: "absolute", left, top, width, height, filter: "blur(0.35px)" }} />;
}

export default function App() {
  return (
    <div style={{ position: "absolute", left: 0, top: 0, width: 442, height: 654, background: "#fff", overflow: "hidden" }}>
      {panels.map((p) => <PanelChart key={p.key} p={p} />)}
    </div>
  );
}
